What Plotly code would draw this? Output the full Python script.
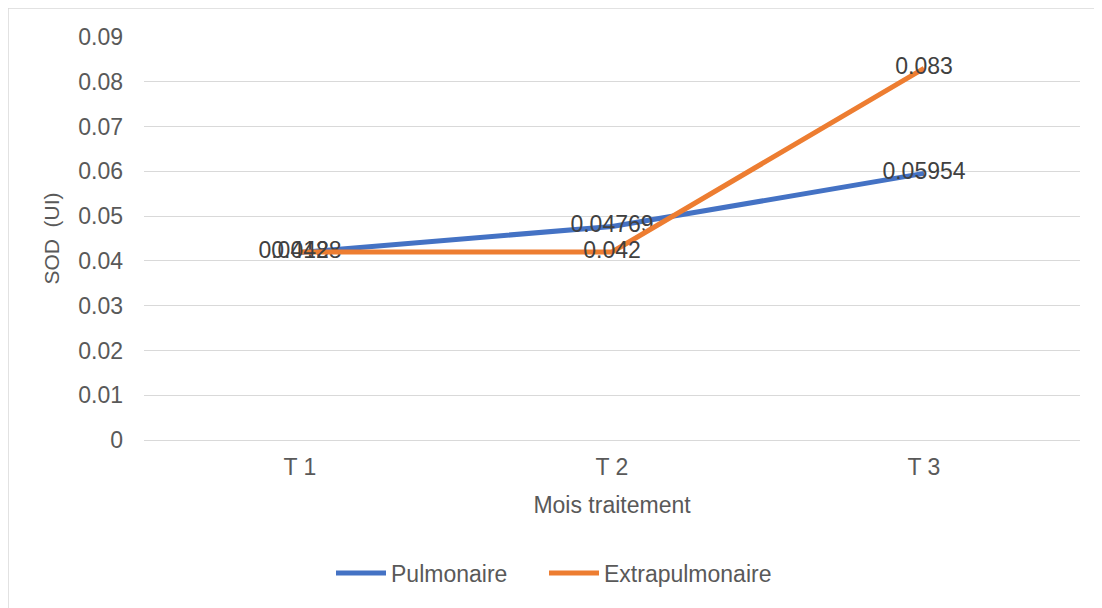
import plotly.graph_objects as go

categories = ["T 1", "T 2", "T 3"]
pulmonaire = [0.04188, 0.04769, 0.05954]
extrapulmonaire = [0.042, 0.042, 0.083]
pulmonaire_labels = ["0.04188", "0.04769", "0.05954"]
extrapulmonaire_labels = ["0.042", "0.042", "0.083"]
y_ticks = [0, 0.01, 0.02, 0.03, 0.04, 0.05, 0.06, 0.07, 0.08, 0.09]
y_tick_labels = ["0", "0.01", "0.02", "0.03", "0.04", "0.05", "0.06", "0.07", "0.08", "0.09"]

FONT = "Liberation Sans, Arial, sans-serif"
FS = 23

fig = go.Figure()
fig.add_trace(go.Scatter(
    x=categories, y=pulmonaire, name="Pulmonaire", mode="lines+text",
    line=dict(color="#4472C4", width=5), legend="legend",
    text=pulmonaire_labels, textposition="middle center",
    textfont=dict(family=FONT, size=FS, color="#404040"),
))
fig.add_trace(go.Scatter(
    x=categories, y=extrapulmonaire, name="Extrapulmonaire", mode="lines+text",
    line=dict(color="#ED7D31", width=5), legend="legend2",
    text=extrapulmonaire_labels, textposition="middle center",
    textfont=dict(family=FONT, size=FS, color="#404040"),
))

# page body has an 8px margin: figure is placed at (8, 8)
W, H = 1094, 600
L, R, T, B = 136, 22, 29, 168
PW, PH = W - L - R, H - T - B

leg_common = dict(orientation="h", xanchor="left", y=-133 / PH, yanchor="middle",
                  font=dict(family=FONT, size=FS, color="#595959"), itemwidth=50,
                  bgcolor="rgba(0,0,0,0)")

fig.update_layout(
    width=W, height=H,
    margin=dict(l=L, r=R, t=T, b=B),
    paper_bgcolor="white", plot_bgcolor="white",
    font=dict(family=FONT, size=FS, color="#595959"),
    showlegend=True,
    legend=dict(x=(331 - 144) / PW, **leg_common),
    legend2=dict(x=(544 - 144) / PW, **leg_common),
    xaxis=dict(
        type="category", range=[-0.5, 2.5], showgrid=False, zeroline=False,
        showline=False, ticks="", ticklabelstandoff=11,
        tickfont=dict(family=FONT, size=FS, color="#595959"),
        title=dict(text="Mois traitement", font=dict(family=FONT, size=FS, color="#595959"), standoff=17),
    ),
    yaxis=dict(
        range=[0, 0.09], tickvals=y_ticks, ticktext=y_tick_labels,
        showgrid=True, gridcolor="#D9D9D9", gridwidth=1,
        zeroline=True, zerolinecolor="#D9D9D9", zerolinewidth=1,
        showline=False, ticks="", ticklabelstandoff=20,
        tickfont=dict(family=FONT, size=FS, color="#595959"),
        title=dict(text="SOD  (UI)", font=dict(family=FONT, size=21, color="#595959"), standoff=12),
    ),
    shapes=[dict(type="rect", xref="paper", yref="paper",
                 x0=-L / PW, x1=1 + (R + 30) / PW, y0=-(B + 30) / PH, y1=1 + T / PH,
                 line=dict(color="#D9D9D9", width=1.5), fillcolor="rgba(0,0,0,0)", layer="below")],
)

fig.write_html("out.html")
